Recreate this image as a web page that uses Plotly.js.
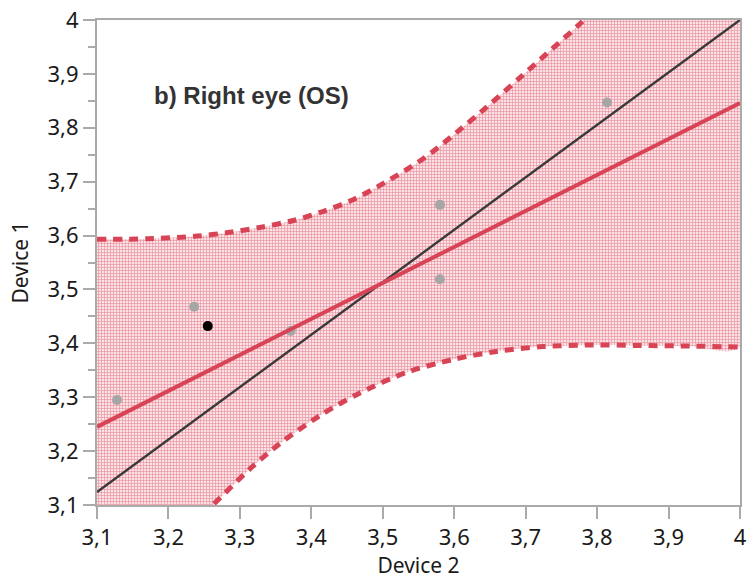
<!DOCTYPE html>
<html>
<head>
<meta charset="utf-8">
<script src="https://cdn.plot.ly/plotly-3.0.1.min.js"></script>
<style>html,body{margin:0;padding:0;background:#fff;}#chart{width:751px;height:581px;}</style>
</head>
<body>
<div id="chart"></div>
<script>
// Measurements (Device 2 on x, Device 1 on y)
var grayX = [3.128, 3.236, 3.371, 3.580, 3.580, 3.814];
var grayY = [3.295, 3.468, 3.423, 3.657, 3.519, 3.847];
var blackX = [3.255];
var blackY = [3.432];

// Regression line
var fitX = [3.1, 4.0];
var fitY = [3.245, 3.846];

// Reference (dark) line as drawn
var idX = [3.1, 4.0];
var idY = [3.124, 4.0];

// Confidence band, upper and lower curves
var upX = [3.10, 3.17, 3.24, 3.286, 3.328, 3.375, 3.417, 3.459, 3.496, 3.556, 3.603, 3.645, 3.692, 3.729, 3.776, 3.85, 3.92, 4.00];
var upY = [3.593, 3.594, 3.599, 3.606, 3.615, 3.628, 3.645, 3.667, 3.693, 3.742, 3.791, 3.838, 3.893, 3.937, 3.993, 4.09, 4.19, 4.31];
var loX = [3.10, 3.18, 3.262, 3.314, 3.356, 3.412, 3.468, 3.533, 3.598, 3.659, 3.724, 3.794, 3.860, 3.930, 4.00];
var loY = [2.90, 3.00, 3.100, 3.167, 3.214, 3.266, 3.308, 3.346, 3.370, 3.385, 3.394, 3.397, 3.396, 3.395, 3.393];

var bandX = upX.concat(loX.slice().reverse());
var bandY = upY.concat(loY.slice().reverse());

var red = '#d84456';

var traces = [
  {x: bandX, y: bandY, type: 'scatter', mode: 'lines', fill: 'toself',
   line: {width: 0, shape: 'spline', smoothing: 0.8, color: 'rgba(0,0,0,0)'},
   fillcolor: '#f7cdd2',
   fillpattern: {shape: '+', size: 3, solidity: 0.38, fgcolor: '#e8919d', bgcolor: '#fbe2e5'},
   hoverinfo: 'skip', showlegend: false},
  {x: grayX, y: grayY, type: 'scatter', mode: 'markers',
   marker: {size: 10, color: '#a6a6a6'}, showlegend: false},
  {x: blackX, y: blackY, type: 'scatter', mode: 'markers',
   marker: {size: 10, color: '#000000'}, showlegend: false},
  {x: upX, y: upY, type: 'scatter', mode: 'lines',
   line: {color: red, width: 5, dash: '9px,7px', shape: 'spline', smoothing: 0.8}, showlegend: false},
  {x: loX, y: loY, type: 'scatter', mode: 'lines',
   line: {color: red, width: 5, dash: '9px,7px', shape: 'spline', smoothing: 0.8}, showlegend: false},
  {x: idX, y: idY, type: 'scatter', mode: 'lines',
   line: {color: '#3a3a3a', width: 2.4}, showlegend: false},
  {x: fitX, y: fitY, type: 'scatter', mode: 'lines',
   line: {color: red, width: 4}, showlegend: false}
];

var tickFont = {family: 'Noto Sans, sans-serif', size: 22, color: '#1a1a1a'};
var titleFont = {family: 'Noto Sans, sans-serif', size: 21, color: '#1a1a1a'};

var layout = {
  width: 751, height: 581,
  margin: {l: 97, r: 11, t: 20, b: 76},
  paper_bgcolor: '#ffffff', plot_bgcolor: '#ffffff',
  separators: ', ',
  showlegend: false,
  xaxis: {
    range: [3.1, 4.0], tick0: 3.1, dtick: 0.1, tickformat: '.1~f',
    showgrid: false, zeroline: false,
    showline: true, linecolor: '#aaaaaa', linewidth: 2, mirror: true,
    ticks: 'outside', ticklen: 12, tickwidth: 2, tickcolor: '#aaaaaa',
    ticklabelstandoff: 0,
    tickfont: tickFont,
    title: {text: 'Device 2', font: titleFont, standoff: 4},
    automargin: false
  },
  yaxis: {
    range: [3.1, 4.0], tick0: 3.1, dtick: 0.1, tickformat: '.1~f',
    showgrid: false, zeroline: false,
    showline: true, linecolor: '#aaaaaa', linewidth: 2, mirror: true,
    ticks: 'outside', ticklen: 12, tickwidth: 2, tickcolor: '#aaaaaa',
    minor: {dtick: 0.05, tick0: 3.1, ticks: 'outside', ticklen: 7, tickwidth: 2, tickcolor: '#aaaaaa', showgrid: false},
    tickfont: tickFont,
    title: {text: 'Device 1', font: titleFont, standoff: 13},
    automargin: false
  },
  annotations: [{
    text: '<b>b) Right eye (OS)</b>', xref: 'paper', yref: 'paper',
    x: 0.241, y: 0.845, xanchor: 'center', yanchor: 'middle', showarrow: false,
    font: {family: 'Liberation Sans, Arial, sans-serif', size: 24, color: '#333333'}
  }]
};

Plotly.newPlot('chart', traces, layout, {displayModeBar: false, staticPlot: true});
</script>
</body>
</html>
